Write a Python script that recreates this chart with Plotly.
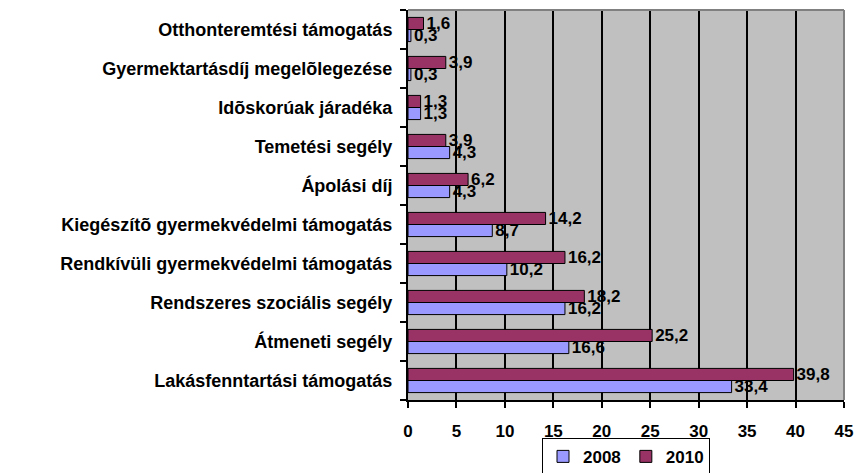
import plotly.graph_objects as go

# Adatok (alulról felfelé, ahogy a kategóriatengely rajzolja)
kategoriak = [
    "Lakásfenntartási támogatás",
    "Átmeneti segély",
    "Rendszeres szociális segély",
    "Rendkívüli gyermekvédelmi támogatás",
    "Kiegészítõ gyermekvédelmi támogatás",
    "Ápolási díj",
    "Temetési segély",
    "Idõskorúak járadéka",
    "Gyermektartásdíj megelõlegezése",
    "Otthonteremtési támogatás",
]
ertek_2008 = [33.4, 16.6, 16.2, 10.2, 8.7, 4.3, 4.3, 1.3, 0.3, 0.3]
ertek_2010 = [39.8, 25.2, 18.2, 16.2, 14.2, 6.2, 3.9, 1.3, 3.9, 1.6]
x_tickek = list(range(0, 50, 5))

FONT = "Liberation Sans, Arial, sans-serif"

fig = go.Figure()
for nev, ertekek, szin in [("2008", ertek_2008, "#9999FF"), ("2010", ertek_2010, "#993366")]:
    fig.add_trace(go.Bar(
        y=kategoriak,
        x=ertekek,
        name=f"<b>{nev}</b>",
        orientation="h",
        marker=dict(color=szin, line=dict(color="black", width=1)),
        texttemplate="<b>%{x:.1f}</b>",
        textposition="outside",
        constraintext="none",
        textfont=dict(family=FONT, size=17, color="black"),
        cliponaxis=False,
    ))

# szürke keret fent és jobbra (mint az Excel rajzterületén)
for x0, y0, x1, y1 in [(0, 1, 1, 1), (1, 0, 1, 1)]:
    fig.add_shape(type="line", xref="paper", yref="paper",
                  x0=x0, y0=y0, x1=x1, y1=y1,
                  line=dict(color="#808080", width=2))

fig.update_layout(
    width=856,
    height=473,
    barmode="group",
    bargap=0.38,
    bargroupgap=0,
    separators=", ",
    paper_bgcolor="white",
    plot_bgcolor="#C0C0C0",
    font=dict(family=FONT, size=17, color="black"),
    margin=dict(l=408, r=12, t=10, b=73, autoexpand=False),
    showlegend=True,
    legend=dict(
        orientation="h",
        x=0.5, xanchor="center",
        y=-0.097, yanchor="top",
        bordercolor="black", borderwidth=1,
        bgcolor="white",
        font=dict(family=FONT, size=17, color="black"),
        traceorder="normal",
        itemwidth=30,
    ),
    xaxis=dict(
        range=[0, 45],
        tickvals=x_tickek,
        ticktext=[f"<b>{v}</b>" for v in x_tickek],
        showgrid=True, gridcolor="black", gridwidth=2,
        showline=True, linecolor="black", linewidth=2,
        ticks="outside", ticklen=6, tickwidth=2, tickcolor="black",
        ticklabelstandoff=9,
        zeroline=False,
    ),
    yaxis=dict(
        tickvals=kategoriak,
        ticktext=[f"<b>{k}</b>" for k in kategoriak],
        tickfont=dict(size=18),
        showline=True, linecolor="black", linewidth=2,
        ticks="outside", ticklen=6, tickwidth=2, tickcolor="black",
        tickson="boundaries",
        ticklabelstandoff=10,
        showgrid=False,
    ),
)

# a böngésző alap 8 px-es body-margóját nullázzuk, hogy a kép ne csússzon el
fig.write_html(
    "out.html",
    config={"displayModeBar": False},
    post_script="document.body.style.margin = '0';",
)
